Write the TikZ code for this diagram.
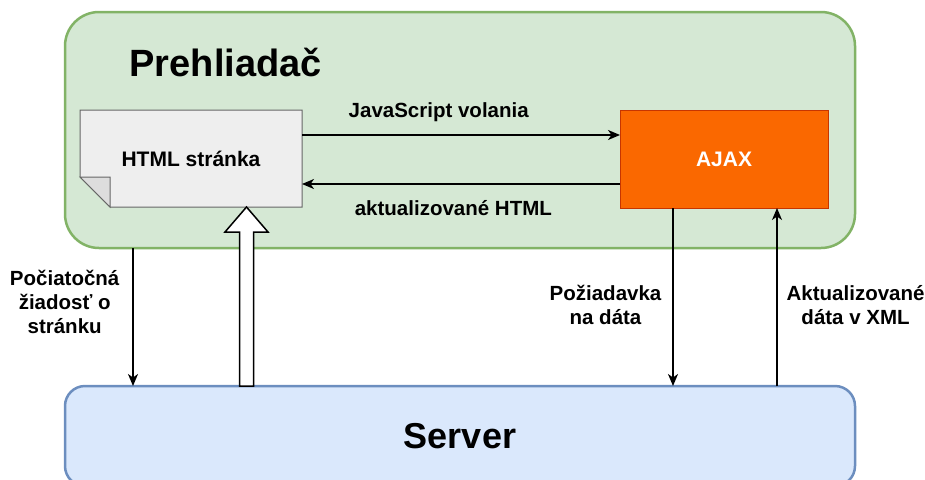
\documentclass[tikz,border=0pt]{standalone}
\usepackage{fontspec}
\setmainfont{Liberation Sans}
\usepackage{tikz}
\usetikzlibrary{arrows.meta}
\definecolor{browserfill}{HTML}{D5E8D4}
\definecolor{browserline}{HTML}{82B366}
\definecolor{serverfill}{HTML}{DAE8FC}
\definecolor{serverline}{HTML}{6C8EBF}
\definecolor{ajaxfill}{HTML}{FA6800}
\definecolor{ajaxline}{HTML}{C73500}
\definecolor{pagefill}{HTML}{EEEEEE}
\definecolor{pageline}{HTML}{666666}
\definecolor{foldfill}{HTML}{DDDDDD}

\begin{document}
\begin{tikzpicture}[x=1pt,y=-1pt,
    bigtext/.style={font=\fontsize{38}{40}\selectfont\bfseries},
    lbl/.style={font=\fontsize{20.5}{24}\selectfont\bfseries,inner sep=0pt,align=center},
    container/.style={rounded corners=#1,line width=2.5pt,inner sep=0pt,outer sep=0pt,
        minimum width=790pt},
    block/.style={inner sep=0pt,outer sep=0pt,line width=1pt,
        font=\fontsize{21}{24}\selectfont\bfseries},
    paper/.style={line width=1pt,draw=pageline},
    arr/.style={line width=1.3pt,-{Stealth[length=12pt,width=10pt,inset=3.5pt]}},
    hollow/.style={draw=black,fill=white,line width=1.5pt,line join=miter}]
    \clip (0,0) rectangle (925,479);

    \node[container=34pt,draw=browserline,fill=browserfill,minimum height=236pt]
        (browser) at (460,130) {};
    \node[bigtext,anchor=base west] (title) at (126,76) {Prehliadač};
    \node[container=20pt,draw=serverline,fill=serverfill,minimum height=100pt,
        font=\fontsize{36}{40}\selectfont\bfseries,anchor=north] (server) at (460,386) {Server};

    \coordinate (pagenw) at (80,110);
    \coordinate (pagese) at (302,207);
    \draw[paper,fill=pagefill] (pagenw) -| (pagese) -- ([xshift=30pt]pagenw |- pagese)
        -- ([yshift=30pt]pagenw |- pagese) -- cycle;
    \draw[paper,fill=foldfill] ([yshift=30pt]pagenw |- pagese) -- ++(30,0)
        -- ([xshift=30pt]pagenw |- pagese) -- cycle;
    \path (pagenw) -- (pagese)
        node[midway,block,minimum width=222pt,minimum height=97pt] (page) {HTML stránka};

    \node[block,draw=ajaxline,fill=ajaxfill,text=white,minimum width=208pt,
        minimum height=98pt] (ajax) at (724,159) {AJAX};

    \draw[arr] ([yshift=23.5pt]page.east) -- ([yshift=23.5pt]page.east -| ajax.west)
        node[lbl,pos=0.43,anchor=base,yshift=17.7pt] {JavaScript volania};
    \draw[arr] ([yshift=-25pt]ajax.west) -- ([yshift=-25pt]ajax.west -| page.east)
        node[lbl,pos=0.524,anchor=base,yshift=-31pt] {aktualizované HTML};

    \draw[arr] ([xshift=68pt]browser.south west) -- ([xshift=68pt]server.north west)
        node[lbl,pos=0.394,left=13pt] {Počiatočná\\žiadosť o\\stránku};
    \draw[arr] ([xshift=53pt]ajax.south west) -- ([xshift=53pt]ajax.south west |- server.north)
        node[lbl,pos=0.545,left=11pt] {Požiadavka\\na dáta};
    \draw[arr] ([xshift=-51pt]ajax.south east |- server.north) -- ([xshift=-51pt]ajax.south east)
        node[lbl,pos=0.455,right=9pt] {Aktualizované\\dáta v XML};

    \coordinate (tip) at ([xshift=55.5pt]page.south);
    \coordinate (base) at (tip |- server.north);
    \draw[hollow] ([xshift=-7pt]base) |- ([xshift=-21.5pt,yshift=-25pt]tip) -- (tip)
        -- ([xshift=21.5pt,yshift=-25pt]tip) -| ([xshift=7pt]base) -- cycle;
\end{tikzpicture}
\end{document}
